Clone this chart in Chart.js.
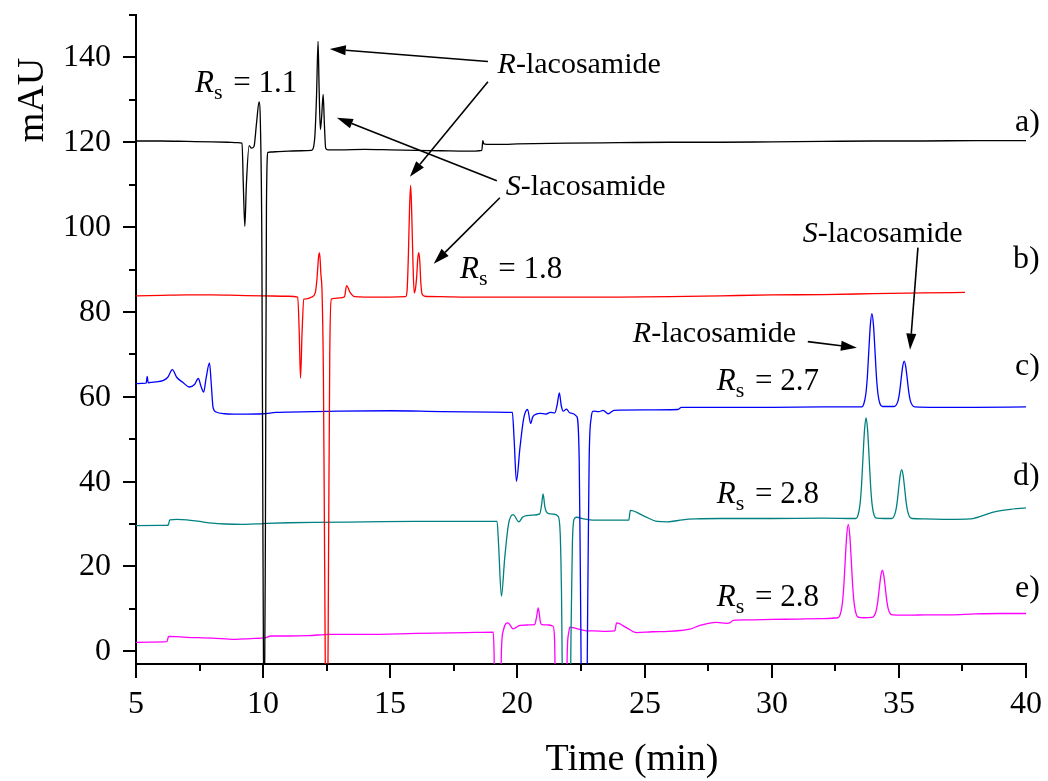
<!DOCTYPE html>
<html>
<head>
<meta charset="utf-8">
<script src="https://cdn.jsdelivr.net/npm/chart.js@4.4.1/dist/chart.umd.min.js"></script>
<style>
  html, body { margin: 0; padding: 0; background: #ffffff; }
  #wrap { width: 1048px; height: 781px; }
</style>
</head>
<body>
<div id="wrap"><canvas id="chrom" width="1048" height="781"></canvas></div>
<script>
// Chromatograms: [retention time (min), absorbance (mAU)]
const traceA = [[5,120.3],[6,120.3],[7,120.2],[8,120.1],[8.6,120.0],[9.0,119.9],[9.17,119.8],[9.22,110],[9.28,100.2],[9.34,110],[9.45,119.2],[9.54,118.6],[9.64,119.0],[9.74,124.5],[9.84,129.5],[9.90,122],[9.95,95],[9.99,30],[10.04,-25],[10.09,30],[10.13,105],[10.19,117.6],[10.3,117.7],[10.6,117.8],[11.0,117.9],[11.5,118.0],[11.9,118.1],[11.98,118.8],[12.04,122],[12.10,131],[12.16,143.8],[12.20,133],[12.25,123],[12.30,126],[12.36,131.3],[12.41,124],[12.46,118.6],[12.55,118.2],[13,118.2],[14,118.3],[15,118.2],[16,118.1],[17,118.0],[18,117.9],[18.6,118.1],[18.64,120.4],[18.68,119.6],[18.8,119.5],[19.5,119.5],[20,119.6],[22,119.8],[24,119.9],[26,120.0],[28,120.0],[30,120.1],[32,120.2],[34,120.3],[36,120.3],[38,120.4],[40,120.4]];

const traceB = [[5,83.8],[6,83.9],[7,84.0],[8,84.0],[9,83.9],[10,83.8],[11,83.7],[11.36,83.5],[11.42,75],[11.47,64.4],[11.53,75],[11.6,83.0],[11.7,83.1],[11.9,83.5],[12.05,84.5],[12.12,88],[12.18,93],[12.22,93.9],[12.27,89],[12.32,84],[12.37,65],[12.42,20],[12.47,-20],[12.53,-20],[12.57,20],[12.62,70],[12.68,83.0],[12.8,83.2],[13.0,83.3],[13.2,83.6],[13.28,86.2],[13.42,84.6],[13.6,83.6],[14,83.5],[15,83.5],[15.6,83.6],[15.66,85],[15.71,93],[15.76,105],[15.8,109.8],[15.84,104],[15.89,92],[15.94,84.5],[15.99,85.5],[16.04,88.5],[16.08,92.5],[16.12,94.0],[16.16,92],[16.2,87],[16.25,84.2],[16.35,83.7],[17,83.6],[18,83.5],[20,83.5],[22,83.5],[24,83.5],[26,83.6],[28,83.8],[30,84.0],[32,84.1],[34,84.3],[36,84.5],[37.6,84.6]];

const traceC = [[5,63.1],[5.4,63.2],[5.44,64.8],[5.48,63.3],[5.8,63.5],[6.05,63.8],[6.25,64.6],[6.43,66.4],[6.6,64.6],[6.84,63.4],[7.1,62.3],[7.3,62.9],[7.45,64.3],[7.56,62.4],[7.66,61.1],[7.76,64.5],[7.89,68.0],[7.96,63],[8.03,57.5],[8.15,56.4],[8.5,56.0],[9,55.9],[10,56.0],[10.5,56.3],[11,56.4],[13,56.6],[15,56.7],[17,56.5],[19,56.4],[19.8,56.3],[19.87,50],[19.96,40.1],[20.1,48],[20.25,55],[20.4,57],[20.52,53.7],[20.6,55.2],[20.7,55.8],[20.9,56.1],[21.1,55.9],[21.3,56.3],[21.47,56.2],[21.56,58],[21.65,60.9],[21.72,58],[21.8,56.6],[21.93,57.1],[22.06,56.2],[22.33,55.4],[22.43,45],[22.48,15],[22.53,-15],[22.72,-15],[22.77,15],[22.82,45],[22.9,55],[22.98,56.6],[23.2,56.5],[23.37,56.8],[23.57,56.0],[23.8,56.8],[25,56.9],[26.3,57.0],[26.45,57.5],[28,57.5],[30,57.5],[32,57.6],[33.54,57.6],[33.62,58.3],[33.70,60.6],[33.76,64.6],[33.82,71.0],[33.88,77.0],[33.94,79.6],[34.00,77.0],[34.06,71.0],[34.12,64.6],[34.18,60.6],[34.26,58.3],[34.36,57.7],[34.58,57.7],[34.81,57.7],[34.89,58.0],[34.97,59.1],[35.03,61.1],[35.09,64.2],[35.15,67.1],[35.21,68.4],[35.27,67.1],[35.33,64.2],[35.39,61.1],[35.45,59.1],[35.53,58.0],[35.63,57.6],[36.5,57.5],[38,57.5],[40,57.6]];

const traceD = [[5,29.6],[6.2,29.7],[6.27,29.8],[6.33,31.0],[6.6,31.1],[7,31.0],[7.5,30.6],[8,30.2],[8.5,30.0],[9.15,29.9],[10,30.1],[11,30.3],[12,30.4],[14,30.5],[16,30.6],[18,30.6],[19.2,30.6],[19.26,25],[19.37,13.0],[19.5,22],[19.65,30],[19.83,32.2],[20.06,30.5],[20.2,31.6],[20.36,32.0],[20.6,32.1],[20.88,32.4],[20.95,34.5],[21.01,37.1],[21.08,34],[21.2,32.5],[21.45,32.3],[21.6,31.8],[21.68,28],[21.73,15],[21.79,-15],[22.07,-15],[22.11,5],[22.16,25],[22.23,31.2],[22.33,31.6],[22.6,31.2],[22.85,31.0],[23.5,30.9],[24.38,30.9],[24.44,33.2],[25.0,31.8],[25.5,30.6],[25.9,30.5],[26.5,31.0],[27,31.2],[28,31.3],[30,31.3],[32,31.4],[33.31,31.3],[33.39,32.0],[33.47,34.5],[33.53,38.9],[33.59,45.8],[33.65,52.2],[33.71,55.0],[33.77,52.2],[33.83,45.8],[33.89,38.9],[33.95,34.5],[34.03,32.0],[34.13,31.4],[34.4,31.3],[34.71,31.3],[34.79,31.6],[34.87,32.9],[34.93,35.0],[34.99,38.3],[35.05,41.4],[35.11,42.8],[35.17,41.4],[35.23,38.3],[35.29,35.0],[35.35,32.9],[35.43,31.6],[35.53,31.3],[36,31.2],[37,31.1],[37.8,31.2],[38.3,32.0],[38.8,32.9],[39.3,33.4],[40,33.8]];

const traceE = [[5,2.1],[6.1,2.2],[6.22,2.3],[6.28,3.5],[7,3.3],[8,3.1],[8.9,2.8],[9.5,3.0],[10.1,3.2],[10.3,3.6],[11,3.6],[11.8,3.7],[12.6,4.0],[14,4.0],[16,4.2],[18,4.4],[19.05,4.5],[19.08,0],[19.12,-15],[19.33,-15],[19.37,0],[19.45,5],[19.63,6.7],[19.83,5.3],[20.1,6.1],[20.4,6.2],[20.68,6.3],[20.75,8],[20.82,10.2],[20.9,7],[20.95,6.3],[21.2,6.2],[21.4,5.9],[21.46,3],[21.51,-15],[21.92,-15],[21.96,0],[22.02,4.5],[22.06,5.7],[22.3,5.4],[22.72,4.8],[23.0,4.8],[23.48,4.7],[23.83,4.8],[23.9,6.7],[24.3,5.5],[24.68,4.4],[25.3,4.6],[25.93,4.7],[26.4,4.9],[26.78,5.2],[27.18,6.1],[27.83,6.8],[28.22,6.6],[28.35,6.7],[28.49,7.3],[29,7.4],[30,7.5],[31,7.6],[32,7.7],[32.61,7.9],[32.69,8.6],[32.77,10.9],[32.83,14.9],[32.89,21.3],[32.95,27.3],[33.01,29.9],[33.07,27.3],[33.13,21.3],[33.19,14.9],[33.25,10.9],[33.33,8.6],[33.43,8.0],[33.6,7.9],[33.95,8.0],[34.03,8.4],[34.11,9.6],[34.17,11.7],[34.23,14.8],[34.29,17.8],[34.35,19.1],[34.41,17.8],[34.47,14.8],[34.53,11.7],[34.59,9.8],[34.67,8.8],[34.77,8.6],[35.5,8.5],[36,8.6],[37,8.6],[38,8.8],[39,8.9],[40,8.9]];

const traceLabels = ['a)', 'b)', 'c)', 'd)', 'e)'];
const traceColors = ['#000000', '#ff0000', '#0000ff', '#008080', '#ff00ff'];

// Axis ranges and ticks
const xRange = [5, 40];
const yRange = [-3, 150];
const xMajorStep = 5, xMinorStep = 2.5;
const yMajorStep = 20, yMinorStep = 10;

// Text labels placed in data units: [time, mAU]
const curveTags = [[39.57,122.7],[39.49,90.4],[39.57,65.2],[39.49,39.3],[39.57,12.9]];
const resolutionNotes = [
  { at: [7.32, 131.9], value: '1.1' },
  { at: [17.74, 88.1], value: '1.8' },
  { at: [27.84, 61.7], value: '2.7' },
  { at: [27.84, 35.0], value: '2.8' },
  { at: [27.84, 10.6], value: '2.8' }
];
const enantiomerNotes = [
  { at: [19.22, 136.4], prefix: 'R' },
  { at: [19.54, 107.6], prefix: 'S' },
  { at: [31.22, 96.6], prefix: 'S' },
  { at: [24.54, 73.0], prefix: 'R' }
];
// Arrows: from [time, mAU] to [time, mAU] (head at the second point)
const arrows = [
  [[18.84, 139.05], [12.62, 141.97]],
  [[18.84, 134.27], [15.77, 111.88]],
  [[19.19, 110.94], [12.90, 125.78]],
  [[19.31, 106.93], [16.71, 91.37]],
  [[35.75, 95.15], [35.44, 71.10]],
  [[31.42, 73.00], [33.35, 71.58]]
];

const SERIF = '"Liberation Serif", "Times New Roman", serif';

function toXY(trace) { return trace.map(p => ({ x: p[0], y: p[1] })); }

const datasets = [traceA, traceB, traceC, traceD, traceE].map((tr, i) => ({
  label: traceLabels[i],
  data: toXY(tr),
  borderColor: traceColors[i],
  borderWidth: 1.3,
  pointRadius: 0,
  cubicInterpolationMode: 'monotone',
  fill: false
}));

function drawArrow(ctx, x1, y1, x2, y2) {
  const ang = Math.atan2(y2 - y1, x2 - x1);
  const headLen = 16, headHalf = 5;
  const bx = x2 - headLen * Math.cos(ang), by = y2 - headLen * Math.sin(ang);
  ctx.beginPath();
  ctx.moveTo(x1, y1);
  ctx.lineTo(bx, by);
  ctx.lineWidth = 1.6;
  ctx.strokeStyle = '#000';
  ctx.stroke();
  ctx.beginPath();
  ctx.moveTo(x2, y2);
  ctx.lineTo(bx + headHalf * Math.sin(ang), by - headHalf * Math.cos(ang));
  ctx.lineTo(bx - headHalf * Math.sin(ang), by + headHalf * Math.cos(ang));
  ctx.closePath();
  ctx.fillStyle = '#000';
  ctx.fill();
}

const decorations = {
  id: 'decorations',
  afterDraw(chart) {
    const ctx = chart.ctx;
    const xs = chart.scales.x, ys = chart.scales.y;
    const area = chart.chartArea;
    ctx.save();
    ctx.fillStyle = '#000';
    ctx.strokeStyle = '#000';

    // tick marks (outward) and tick labels
    ctx.lineWidth = 2;
    ctx.font = '32px ' + SERIF;
    ctx.textAlign = 'right';
    ctx.textBaseline = 'middle';
    for (let v = 0; v <= yRange[1] + 1e-9; v += yMinorStep) {
      const py = Math.round(ys.getPixelForValue(v));
      const major = v % yMajorStep === 0;
      const len = major ? 13 : 7;
      ctx.beginPath();
      ctx.moveTo(area.left, py);
      ctx.lineTo(area.left - len, py);
      ctx.stroke();
      if (major) ctx.fillText(String(v), area.left - 25, py + 1);
    }
    ctx.textAlign = 'center';
    for (let v = xRange[0]; v <= xRange[1] + 1e-9; v += xMinorStep) {
      const px = Math.round(xs.getPixelForValue(v));
      const major = v % xMajorStep === 0;
      const len = major ? 14 : 7;
      ctx.beginPath();
      ctx.moveTo(px, area.bottom);
      ctx.lineTo(px, area.bottom + len);
      ctx.stroke();
      if (major) ctx.fillText(String(v), px, area.bottom + 41);
    }

    // axis titles
    ctx.font = '38px ' + SERIF;
    ctx.textBaseline = 'alphabetic';
    ctx.textAlign = 'center';
    ctx.fillText('Time (min)', 632, 770);
    ctx.save();
    ctx.translate(43, 100);
    ctx.rotate(-Math.PI / 2);
    ctx.fillText('mAU', 0, 0);
    ctx.restore();

    // curve tags
    ctx.textAlign = 'left';
    ctx.font = '32px ' + SERIF;
    curveTags.forEach((p, i) => {
      ctx.fillText(traceLabels[i], xs.getPixelForValue(p[0]), ys.getPixelForValue(p[1]));
    });

    // resolution notes: R_s = value
    resolutionNotes.forEach(n => {
      let x = xs.getPixelForValue(n.at[0]);
      const y = ys.getPixelForValue(n.at[1]);
      ctx.font = 'italic 31px ' + SERIF;
      ctx.fillText('R', x, y);
      x += ctx.measureText('R').width;
      ctx.font = '22px ' + SERIF;
      ctx.fillText('s', x, y + 7);
      x += ctx.measureText('s').width;
      ctx.font = '31px ' + SERIF;
      ctx.fillText(' = ' + n.value, x + 3, y);
    });

    // enantiomer names
    enantiomerNotes.forEach(n => {
      let x = xs.getPixelForValue(n.at[0]);
      const y = ys.getPixelForValue(n.at[1]);
      ctx.font = 'italic 30px ' + SERIF;
      ctx.fillText(n.prefix, x, y);
      x += ctx.measureText(n.prefix).width;
      ctx.font = '30px ' + SERIF;
      ctx.fillText('-lacosamide', x, y);
    });

    // arrows
    arrows.forEach(a => {
      drawArrow(ctx,
        xs.getPixelForValue(a[0][0]), ys.getPixelForValue(a[0][1]),
        xs.getPixelForValue(a[1][0]), ys.getPixelForValue(a[1][1]));
    });
    ctx.restore();
  }
};

new Chart(document.getElementById('chrom'), {
  type: 'line',
  data: { datasets },
  options: {
    responsive: false,
    animation: false,
    devicePixelRatio: 1,
    layout: { padding: { left: 0, right: 22, top: 15, bottom: 0 } },
    plugins: { legend: { display: false }, tooltip: { enabled: false } },
    scales: {
      x: {
        type: 'linear',
        min: xRange[0],
        max: xRange[1],
        afterFit(scale) { scale.height = 117; },
        grid: { display: false, drawTicks: false, tickLength: 0 },
        border: { display: true, color: '#000', width: 2 },
        ticks: { display: false, stepSize: xMinorStep }
      },
      y: {
        type: 'linear',
        min: yRange[0],
        max: yRange[1],
        afterFit(scale) { scale.width = 136; },
        grid: { display: false, drawTicks: false, tickLength: 0 },
        border: { display: true, color: '#000', width: 2 },
        ticks: { display: false, stepSize: yMinorStep }
      }
    }
  },
  plugins: [decorations]
});
</script>
</body>
</html>
